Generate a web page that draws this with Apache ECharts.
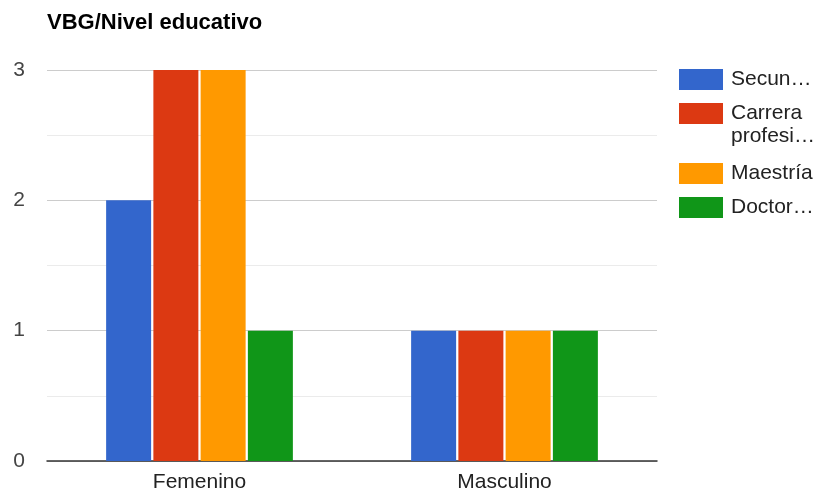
<!DOCTYPE html>
<html>
<head>
<meta charset="utf-8">
<script src="https://cdn.jsdelivr.net/npm/echarts@6/dist/echarts.min.js"></script>
<style>
  html, body { margin: 0; padding: 0; background: #fff; }
  #chart { width: 821px; height: 494px; }
</style>
</head>
<body>
<div id="chart"></div>
<script>
// Gender categories on the x axis
const categories = ['Femenino', 'Masculino'];

// One series per education level
const seriesNames = ['Secundaria', 'Carrera profesional', 'Maestría', 'Doctorado'];
const legendLabels = ['Secun…', 'Carrera', 'Maestría', 'Doctor…'];
const legendSecondLine = 'profesi…';
const secundaria = [2, 1];
const carreraProfesional = [3, 1];
const maestria = [3, 1];
const doctorado = [1, 1];
const seriesValues = [secundaria, carreraProfesional, maestria, doctorado];
const seriesColors = ['#3366cc', '#dc3912', '#ff9900', '#109618'];

// Y axis labelled ticks
const yTicks = [0, 1, 2, 3];

const FONT = "'Liberation Sans', Arial, sans-serif";
const chart = echarts.init(document.getElementById('chart'), null, { renderer: 'canvas' });

// Legend rows stacked on the right, one legend component per entry;
// the wrapped second line of the "Carrera" entry is drawn as a separate text.
const legendTops = [69, 103, 163, 197];
const legends = seriesNames.map((name, i) => ({
  data: [name],
  orient: 'vertical',
  left: 679,
  top: legendTops[i],
  padding: 0,
  itemWidth: 44,
  itemHeight: 21,
  itemGap: 0,
  icon: 'rect',
  selectedMode: false,
  formatter: () => legendLabels[i],
  textStyle: { fontFamily: FONT, fontSize: 21, color: '#222', padding: [0, 0, 0, 3] }
}));

chart.setOption({
  animation: false,
  backgroundColor: '#fff',
  title: {
    text: 'VBG/Nivel educativo',
    left: 47,
    top: 12,
    padding: 0,
    textStyle: { fontFamily: FONT, fontSize: 22, fontWeight: 'bold', color: '#000' }
  },
  legend: legends,
  graphic: [{
    type: 'text',
    left: 731,
    top: 126,
    style: { text: legendSecondLine, fontFamily: FONT, fontSize: 21, fill: '#222' }
  }],
  grid: { left: 47, right: 164, top: 70, bottom: 33, containLabel: false },
  xAxis: {
    type: 'category',
    data: categories,
    axisTick: { show: false },
    axisLine: { lineStyle: { color: '#333', width: 1.5 } },
    axisLabel: { fontFamily: FONT, fontSize: 21, color: '#222', margin: 11 }
  },
  yAxis: {
    type: 'value',
    min: 0,
    max: 3,
    interval: 0.5,
    axisLine: { show: false },
    axisTick: { show: false },
    axisLabel: {
      fontFamily: FONT,
      fontSize: 21,
      color: '#444',
      margin: 22,
      formatter: v => (yTicks.indexOf(v) >= 0 ? String(v) : '')
    },
    splitLine: { lineStyle: { color: ['#cccccc', '#ebebeb'], width: 1 } }
  },
  series: seriesNames.map((name, i) => ({
    name: name,
    type: 'bar',
    data: seriesValues[i],
    barWidth: 45,
    barGap: '5%',
    itemStyle: { color: seriesColors[i] }
  }))
});
</script>
</body>
</html>
